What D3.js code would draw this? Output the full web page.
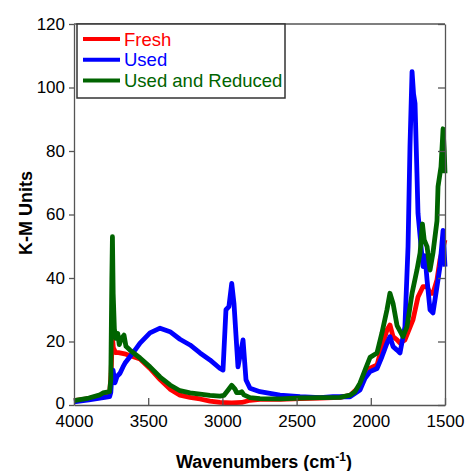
<!DOCTYPE html>
<html>
<head>
<meta charset="utf-8">
<script src="https://cdn.jsdelivr.net/npm/d3@7"></script>
<style>
  body { margin: 0; background: #fff; }
  svg text { font-family: Arial, "Liberation Sans", sans-serif; }
</style>
</head>
<body>
<svg id="chart" width="467" height="471"></svg>
<script>
// data: [wavenumber, K-M units]
var fresh = [[4000,1.4],[3900,2.0],[3825,2.8],[3760,3.5],[3750,10],[3742,22],[3735,18],[3720,16.5],[3700,16.5],[3650,16],[3600,15.2],[3555,14.5],[3488,11.5],[3420,8],[3353,5],[3286,3.1],[3218,2.4],[3151,1.9],[3084,1.2],[3016,0.8],[2937,0.7],[2870,0.8],[2814,1.5],[2747,1.8],[2612,1.8],[2477,2.0],[2342,2.2],[2208,2.4],[2140,3],[2073,6],[2039,9.4],[2005,11.6],[1958,12.6],[1925,18.4],[1891,23.6],[1871,25.2],[1850,21.5],[1823,20.5],[1803,19.5],[1770,20.5],[1716,26.8],[1682,34],[1648,37.3],[1621,37.3],[1601,35.2],[1581,35.2],[1554,39.4],[1534,45.7],[1500,52]];

var used = [[4000,1.0],[3900,1.6],[3825,2.2],[3760,2.6],[3752,4],[3745,9],[3737,11],[3724,7],[3710,9],[3690,10],[3670,12],[3656,13.2],[3623,15.2],[3589,17.3],[3555,19.5],[3488,22.7],[3420,24.2],[3353,23.1],[3286,20.7],[3218,18.9],[3151,16.4],[3084,14.2],[3016,11.5],[2996,11],[2976,30],[2956,31],[2937,38.3],[2922,32],[2895,12],[2861,20.5],[2841,7.9],[2814,5.3],[2747,4.2],[2612,3.1],[2477,2.6],[2342,2.3],[2255,2.6],[2140,2.6],[2073,4.7],[2039,8.4],[2005,10.5],[1958,11.5],[1925,15.2],[1891,19.5],[1871,21.5],[1850,18.4],[1823,17.3],[1803,16.4],[1770,24.7],[1749,49.9],[1736,81.4],[1722,105],[1712,98],[1702,95],[1689,73],[1682,60.4],[1655,46.7],[1648,43.6],[1635,47],[1621,39.4],[1601,30],[1581,29],[1554,37.3],[1534,43.6],[1513,55],[1505,48],[1500,43.6]];

var usedReduced = [[4000,1.4],[3900,2.2],[3825,3.2],[3805,3.8],[3760,4.2],[3752,8],[3745,40],[3741,53],[3736,35],[3728,24],[3718,21],[3705,22.5],[3695,19],[3680,21],[3663,22],[3650,18.5],[3623,17.3],[3555,14.8],[3488,12],[3420,8.8],[3353,6.3],[3286,4.5],[3218,3.8],[3151,3.4],[3084,3.0],[3016,2.8],[2990,3.0],[2960,4.8],[2937,6.2],[2915,5],[2904,3.9],[2880,3.9],[2870,4.2],[2855,3.2],[2814,2.3],[2747,2.0],[2612,1.9],[2477,2.2],[2342,2.3],[2208,2.4],[2140,3.1],[2106,4.2],[2073,6.9],[2039,11],[2005,15],[1958,16.4],[1925,22.7],[1891,30],[1871,35.2],[1850,32],[1823,25],[1783,21.5],[1756,24.7],[1722,35.2],[1689,42.5],[1668,47.9],[1652,57],[1640,52],[1621,49.9],[1601,42.5],[1581,47.9],[1554,58],[1547,68.8],[1527,75],[1513,87],[1505,80],[1500,73]];

var seriesNames = ["Fresh", "Used", "Used and Reduced"];
var seriesColors = ["#ff0000", "#0000ff", "#006400"];
var xTicks = [4000, 3500, 3000, 2500, 2000, 1500];
var yTicks = [0, 20, 40, 60, 80, 100, 120];

var plotLeft = 74, plotRight = 445, plotTop = 24, plotBottom = 405;

var svg = d3.select("#chart");

var x = d3.scaleLinear().domain([4000, 1500]).range([plotLeft, plotRight]);
var y = d3.scaleLinear().domain([0, 120]).range([plotBottom, plotTop]);

var line = d3.line()
	.x(d => x(d[0]))
	.y(d => y(d[1]));

// spectra, green drawn last
var allSeries = [fresh, used, usedReduced];
svg.append("g").selectAll("path")
	.data(allSeries)
	.join("path")
	.attr("d", line)
	.attr("fill", "none")
	.attr("stroke", (d, i) => seriesColors[i])
	.attr("stroke-width", 4.8)
	.attr("stroke-linejoin", "round");

// axes
var xAxis = svg.append("g")
	.attr("transform", "translate(0," + plotBottom + ")")
	.call(d3.axisBottom(x).tickValues(xTicks).tickSizeInner(-7).tickSizeOuter(0).tickPadding(10).tickFormat(d3.format("d")));
var yAxis = svg.append("g")
	.attr("transform", "translate(" + plotLeft + ",0)")
	.call(d3.axisLeft(y).tickValues(yTicks).tickSizeInner(5).tickSizeOuter(0).tickPadding(4));
var yRight = svg.append("g")
	.attr("transform", "translate(" + plotRight + ",0)")
	.call(d3.axisRight(y).tickValues(yTicks).tickSizeInner(-7).tickSizeOuter(0).tickFormat(""));

[xAxis, yAxis, yRight].forEach(function(g) {
	g.selectAll("path, line").attr("stroke", "#555").attr("stroke-width", 1.3);
	g.selectAll("text").attr("font-size", 17).attr("fill", "#000").style("font-family", "Arial, 'Liberation Sans', sans-serif");
});
// zero label sits a touch higher, as in the reference
yAxis.selectAll(".tick text").filter(d => d === 0).attr("dy", "0.2em");

svg.append("line")
	.attr("x1", plotLeft).attr("x2", plotRight)
	.attr("y1", plotTop).attr("y2", plotTop)
	.attr("stroke", "#555").attr("stroke-width", 1.3);

// legend
var legend = svg.append("g");
legend.append("rect")
	.attr("x", 77).attr("y", plotTop)
	.attr("width", 208).attr("height", 74)
	.attr("fill", "#fff")
	.attr("stroke", "#333")
	.attr("stroke-width", 1.5);
var items = legend.selectAll("g.item")
	.data(seriesNames)
	.join("g")
	.attr("class", "item")
	.attr("transform", (d, i) => "translate(0," + (39 + i * 20.8) + ")");
items.append("line")
	.attr("x1", 83).attr("x2", 120)
	.attr("stroke", (d, i) => seriesColors[i])
	.attr("stroke-width", 4);
items.append("text")
	.attr("x", 124).attr("y", 6.5)
	.attr("font-size", 18.5)
	.attr("fill", (d, i) => seriesColors[i])
	.text(d => d);

// axis titles
svg.append("text")
	.attr("transform", "translate(32,213) rotate(-90)")
	.attr("text-anchor", "middle")
	.attr("font-size", 18)
	.attr("font-weight", "bold")
	.text("K-M Units");

var xt = svg.append("text")
	.attr("x", 264).attr("y", 468)
	.attr("text-anchor", "middle")
	.attr("font-size", 18)
	.attr("font-weight", "bold");
xt.append("tspan").text("Wavenumbers (cm");
xt.append("tspan").attr("dy", -7).attr("font-size", 12).text("-1");
xt.append("tspan").attr("dy", 7).text(")");
</script>
</body>
</html>
